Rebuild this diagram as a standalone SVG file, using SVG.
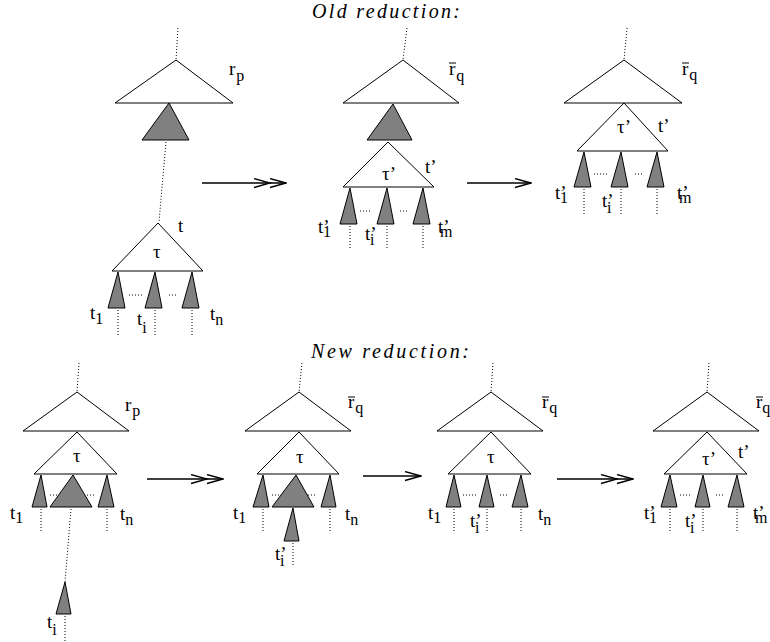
<svg xmlns="http://www.w3.org/2000/svg" width="770" height="642" viewBox="0 0 770 642">
<style>
.w{fill:#fff;stroke:#000;stroke-width:1}
.g{fill:#808080;stroke:#000;stroke-width:1}
.d{fill:none;stroke:#000;stroke-width:1;stroke-dasharray:1 2}
.a{fill:none;stroke:#000;stroke-width:1.3}
.ol{stroke:#000;stroke-width:1}
text{font-family:"Liberation Serif","Times New Roman",serif;font-size:19px;fill:#000}
.s{font-size:16px}
.ti{font-style:italic;font-size:20px}
</style>
<defs>
<marker id="h1" viewBox="0 0 18 11" refX="17" refY="5.5" markerWidth="18" markerHeight="11" markerUnits="userSpaceOnUse" orient="auto"><path class="a" d="M1,1 L17,5.5 L1,10"/></marker>
<marker id="h2" viewBox="0 0 34 11" refX="33" refY="5.5" markerWidth="34" markerHeight="11" markerUnits="userSpaceOnUse" orient="auto"><path class="a" d="M1,1 L17,5.5 L1,10 M17,1 L33,5.5 L17,10"/></marker>
</defs>
<rect width="770" height="642" fill="#fff"/>
<text class="ti" x="312" y="18" textLength="148" lengthAdjust="spacing">Old reduction:</text>
<text class="ti" x="311" y="358" textLength="158" lengthAdjust="spacing">New reduction:</text>

<g id="connectors">
<path class="a" d="M202,183 H286" marker-end="url(#h2)"/>
<path class="a" d="M467,183 H531" marker-end="url(#h1)"/>
<path class="a" d="M147,479 H223" marker-end="url(#h2)"/>
<path class="a" d="M363,476 H421" marker-end="url(#h1)"/>
<path class="a" d="M557,479 H633" marker-end="url(#h2)"/>
</g>

<g id="old-1">
<path class="d" d="M178,28 L176,60 M166,142 L159,222 M118,310 V335 M155,310 V335 M192,310 V335 M129,295 H142 M169,295 H178"/>
<polygon class="w" points="176,60 115,103 233,103"/>
<polygon class="g" points="169,103 142,140 189,140"/>
<polygon class="w" points="158,223 112,271 203,271"/>
<polygon class="g" points="118,272 108,308 125,308"/>
<polygon class="g" points="155,272 145,308 162,308"/>
<polygon class="g" points="192,272 182,308 199,308"/>
<text x="229" y="75">r<tspan class="s" dx="1" dy="6">p</tspan></text>
<text x="178" y="232">t</text>
<text x="153" y="258">τ</text>
<text x="90" y="319">t<tspan class="s" dy="5">1</tspan></text>
<text x="137" y="325">t<tspan class="s" dy="8">i</tspan></text>
<text x="210" y="320">t<tspan class="s" dy="5">n</tspan></text>
</g>

<g id="old-2">
<path class="d" d="M407,28 L403,60 M350,226 V250 M387,226 V250 M423,226 V250 M360,211 H370 M400,211 H408"/>
<polygon class="w" points="403,60 343,103 459,103"/>
<polygon class="g" points="393,104 367,140 412,140"/>
<polygon class="w" points="388,142 343,187 434,187"/>
<polygon class="g" points="350,188 340,224 357,224"/>
<polygon class="g" points="387,188 377,224 394,224"/>
<polygon class="g" points="423,188 413,224 430,224"/>
<line class="ol" x1="449" y1="63" x2="456" y2="63"/>
<text x="449" y="75">r<tspan class="s" dx="1" dy="6">q</tspan></text>
<text x="382" y="180">τ’</text>
<text x="425" y="173">t’</text>
<text x="318" y="233">t’<tspan class="s" dx="-6.6" dy="4">1</tspan></text>
<text x="365" y="240">t’<tspan class="s" dx="-6.6" dy="5">i</tspan></text>
<text x="438" y="233">t’<tspan class="s" dx="-9.6" dy="4">m</tspan></text>
</g>

<g id="old-3">
<path class="d" d="M627,28 L624,60 M584,189 V215 M621,189 V215 M657,189 V215 M594,174 H607 M635,174 H643"/>
<polygon class="w" points="624,60 564,103 682,103"/>
<polygon class="w" points="624,103 577,151 668,151"/>
<polygon class="g" points="584,152 574,187 591,187"/>
<polygon class="g" points="621,152 611,187 628,187"/>
<polygon class="g" points="657,152 647,187 664,187"/>
<line class="ol" x1="682" y1="63" x2="689" y2="63"/>
<text x="682" y="75">r<tspan class="s" dx="1" dy="5">q</tspan></text>
<text x="617" y="133">τ’</text>
<text x="658" y="132">t’</text>
<text x="555" y="199">t’<tspan class="s" dx="-6.6" dy="4">1</tspan></text>
<text x="602" y="207">t’<tspan class="s" dx="-6.6" dy="6">i</tspan></text>
<text x="677" y="199">t’<tspan class="s" dx="-9.6" dy="4">m</tspan></text>
</g>

<g id="new-1">
<path class="d" d="M79,363 L77,392 M41,509 V533 M107,509 V533 M71,509 L65,582 M65,616 V642 M50,495 H62 M84,495 H95"/>
<polygon class="w" points="77,392 23,431 129,431"/>
<polygon class="w" points="77,432 34,474 117,474"/>
<polygon class="g" points="41,475 32,507 47,507"/>
<polygon class="g" points="73,475 50,507 92,507"/>
<polygon class="g" points="107,475 98,507 114,507"/>
<polygon class="g" points="65,582 56,614 71,614"/>
<text x="125" y="411">r<tspan class="s" dx="1" dy="5">p</tspan></text>
<text x="73" y="462">τ</text>
<text x="10" y="519">t<tspan class="s" dy="4">1</tspan></text>
<text x="120" y="520">t<tspan class="s" dy="5">n</tspan></text>
<text x="47" y="628">t<tspan class="s" dy="7">i</tspan></text>
</g>

<g id="new-2">
<path class="d" d="M302,363 L299,392 M263,509 V533 M330,509 V533 M293,543 V565 M272,495 H285 M305,495 H317"/>
<polygon class="w" points="299,392 245,431 351,431"/>
<polygon class="w" points="299,432 257,474 339,474"/>
<polygon class="g" points="263,475 253,507 269,507"/>
<polygon class="g" points="296,475 272,507 314,507"/>
<polygon class="g" points="330,475 321,507 336,507"/>
<polygon class="g" points="293,508 284,541 299,541"/>
<line class="ol" x1="348" y1="397" x2="355" y2="397"/>
<text x="348" y="408">r<tspan class="s" dx="1" dy="5">q</tspan></text>
<text x="296" y="463">τ</text>
<text x="233" y="519">t<tspan class="s" dy="4">1</tspan></text>
<text x="345" y="520">t<tspan class="s" dy="5">n</tspan></text>
<text x="275" y="560">t’<tspan class="s" dx="-6.6" dy="6">i</tspan></text>
</g>

<g id="new-3">
<path class="d" d="M493,363 L491,392 M454,509 V533 M487,509 V533 M521,509 V533 M463,495 H476 M500,495 H508"/>
<polygon class="w" points="491,392 437,431 543,431"/>
<polygon class="w" points="491,432 448,474 531,474"/>
<polygon class="g" points="454,475 446,507 461,507"/>
<polygon class="g" points="487,475 479,507 494,507"/>
<polygon class="g" points="521,475 512,507 528,507"/>
<line class="ol" x1="542" y1="397" x2="549" y2="397"/>
<text x="542" y="408">r<tspan class="s" dx="1" dy="5">q</tspan></text>
<text x="487" y="463">τ</text>
<text x="428" y="519">t<tspan class="s" dy="4">1</tspan></text>
<text x="470" y="527">t’<tspan class="s" dx="-6.6" dy="6">i</tspan></text>
<text x="538" y="520">t<tspan class="s" dy="5">n</tspan></text>
</g>

<g id="new-4">
<path class="d" d="M709,363 L707,392 M670,509 V533 M703,509 V533 M737,509 V533 M680,495 H692 M716,495 H724"/>
<polygon class="w" points="707,392 653,431 759,431"/>
<polygon class="w" points="707,432 664,474 747,474"/>
<polygon class="g" points="670,475 661,507 677,507"/>
<polygon class="g" points="703,475 695,507 710,507"/>
<polygon class="g" points="737,475 728,507 744,507"/>
<line class="ol" x1="756" y1="397" x2="763" y2="397"/>
<text x="756" y="408">r<tspan class="s" dx="0" dy="5">q</tspan></text>
<text x="702" y="465">τ’</text>
<text x="738" y="458">t’</text>
<text x="644" y="519">t’<tspan class="s" dx="-6.6" dy="4">1</tspan></text>
<text x="685" y="527">t’<tspan class="s" dx="-6.6" dy="6">i</tspan></text>
<text x="753" y="519">t’<tspan class="s" dx="-9.6" dy="4">m</tspan></text>
</g>
</svg>
